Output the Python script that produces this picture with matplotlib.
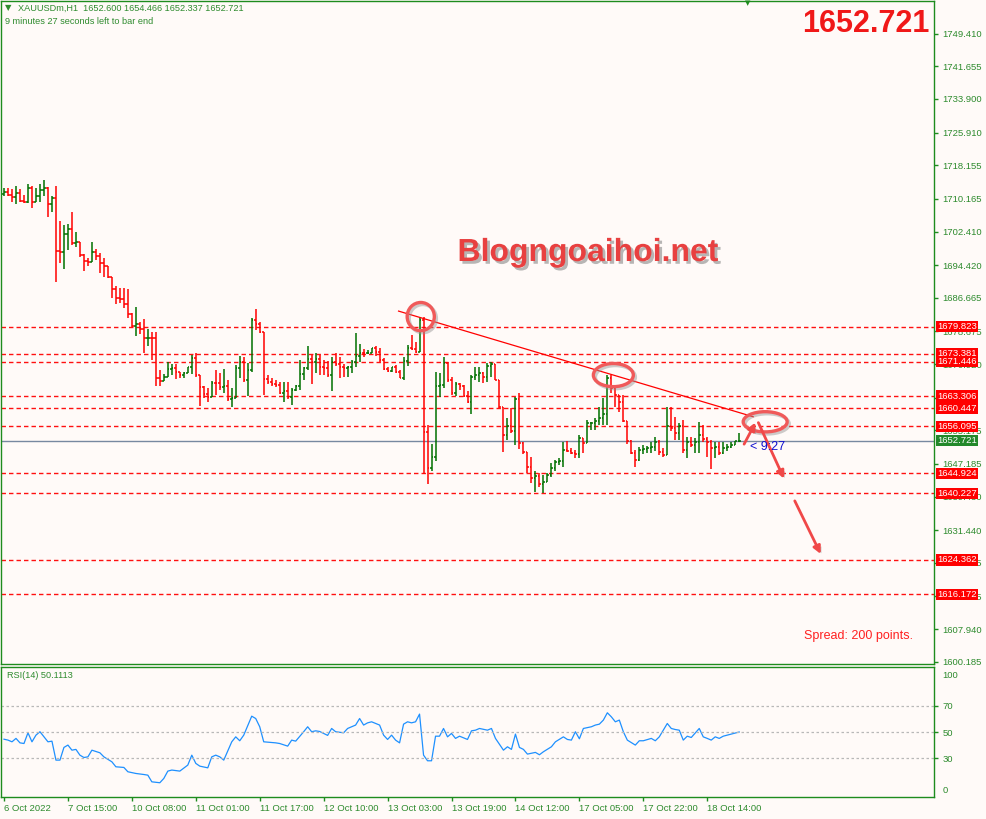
import matplotlib
matplotlib.use('Agg')
import matplotlib.pyplot as plt
import matplotlib.patheffects as pe
import matplotlib.transforms as mtrans
from matplotlib.patches import Ellipse, FancyArrowPatch
from matplotlib.collections import LineCollection

# ---- data (XAUUSDm, H1) ----
first_open = 1711.3
highs = [
    1712.8, 1712.7, 1712.5, 1713.2, 1712.5, 1711.1, 1713.6, 1713.3, 1712.8, 1713.6,
    1714.6, 1713.1, 1710.9, 1713.2, 1704.9, 1704.0, 1704.2, 1707.1, 1702.4, 1700.0,
    1697.0, 1696.0, 1700.0, 1698.3, 1697.2, 1696.0, 1694.1, 1691.7, 1689.5, 1689.1,
    1688.9, 1688.8, 1683.0, 1684.5, 1681.0, 1681.6, 1679.3, 1678.6, 1678.5, 1669.5,
    1668.5, 1671.5, 1670.9, 1670.9, 1669.1, 1669.1, 1670.3, 1673.1, 1673.6, 1668.3,
    1665.6, 1665.2, 1667.0, 1669.5, 1668.9, 1669.7, 1667.1, 1665.2, 1670.7, 1672.8,
    1672.5, 1671.1, 1681.8, 1683.9, 1681.0, 1678.6, 1668.3, 1667.5, 1667.1, 1666.7,
    1666.7, 1666.7, 1665.2, 1665.9, 1671.9, 1670.3, 1675.2, 1673.1, 1673.5, 1673.1,
    1671.9, 1671.7, 1672.5, 1673.5, 1672.5, 1670.9, 1670.5, 1671.9, 1678.4, 1675.8,
    1674.4, 1674.3, 1674.8, 1675.3, 1674.7, 1672.3, 1670.1, 1670.3, 1670.7, 1669.5,
    1672.7, 1675.5, 1677.8, 1676.1, 1682.2, 1682.2, 1656.4, 1651.9, 1669.0, 1668.7,
    1672.7, 1671.5, 1667.9, 1666.6, 1666.3, 1665.9, 1664.5, 1668.3, 1670.3, 1670.3,
    1669.0, 1671.1, 1671.5, 1670.7, 1667.1, 1660.8, 1658.0, 1660.4, 1663.2, 1664.0,
    1652.5, 1649.5, 1648.9, 1645.4, 1645.0, 1644.6, 1645.0, 1647.3, 1648.1, 1648.7,
    1652.5, 1652.6, 1650.9, 1650.5, 1654.1, 1652.9, 1657.6, 1657.2, 1658.0, 1660.8,
    1662.8, 1668.3, 1668.3, 1665.2, 1663.6, 1663.6, 1657.4, 1652.9, 1650.5, 1651.3,
    1651.7, 1651.5, 1652.3, 1653.7, 1652.9, 1650.9, 1660.8, 1660.8, 1658.4, 1656.8,
    1657.6, 1653.7, 1653.7, 1653.4, 1657.2, 1656.4, 1653.7, 1652.9, 1652.3, 1652.5,
    1652.5, 1651.9, 1652.5, 1652.6, 1654.466]
lows = [
    1710.9, 1710.9, 1709.4, 1708.9, 1709.4, 1709.1, 1709.1, 1708.1, 1709.4, 1709.4,
    1710.9, 1705.9, 1707.1, 1690.3, 1694.9, 1693.5, 1698.0, 1699.1, 1698.8, 1696.4,
    1693.0, 1694.3, 1696.0, 1695.6, 1692.6, 1691.7, 1691.3, 1686.7, 1685.1, 1685.4,
    1684.2, 1681.9, 1679.8, 1677.7, 1678.0, 1673.5, 1675.1, 1671.9, 1665.6, 1665.8,
    1666.9, 1667.9, 1668.2, 1667.4, 1667.7, 1667.7, 1668.7, 1668.6, 1667.8, 1661.0,
    1662.8, 1661.8, 1663.2, 1663.6, 1664.8, 1664.1, 1662.2, 1660.6, 1666.5, 1667.5,
    1666.7, 1663.3, 1669.1, 1679.0, 1678.2, 1663.6, 1666.2, 1665.7, 1665.4, 1663.8,
    1661.8, 1662.5, 1661.2, 1664.6, 1664.8, 1667.1, 1669.5, 1666.2, 1668.9, 1668.3,
    1668.3, 1667.8, 1664.6, 1670.5, 1667.5, 1667.8, 1667.8, 1668.9, 1670.1, 1671.3,
    1672.5, 1673.3, 1673.5, 1672.9, 1671.5, 1669.5, 1669.0, 1669.0, 1668.7, 1667.5,
    1667.1, 1670.5, 1674.3, 1673.5, 1673.7, 1644.7, 1642.3, 1645.4, 1647.9, 1663.2,
    1665.3, 1666.6, 1663.6, 1663.4, 1664.8, 1663.2, 1661.6, 1659.0, 1667.1, 1666.6,
    1666.3, 1666.6, 1667.9, 1667.1, 1660.4, 1650.1, 1652.9, 1654.5, 1651.7, 1650.7,
    1649.5, 1645.0, 1642.6, 1640.6, 1641.6, 1640.2, 1643.0, 1644.2, 1645.4, 1646.9,
    1646.5, 1650.0, 1649.5, 1648.7, 1648.7, 1649.7, 1652.1, 1655.3, 1655.3, 1656.4,
    1656.4, 1656.4, 1664.0, 1660.8, 1659.6, 1657.2, 1651.9, 1649.5, 1646.5, 1647.9,
    1649.5, 1649.9, 1649.9, 1650.3, 1649.2, 1648.9, 1649.5, 1654.9, 1652.9, 1652.9,
    1649.9, 1648.5, 1651.3, 1649.9, 1649.9, 1652.5, 1648.9, 1646.0, 1648.5, 1649.3,
    1649.5, 1650.3, 1650.9, 1651.7, 1652.337]
closes = [
    1711.9, 1711.2, 1710.5, 1711.5, 1709.7, 1709.4, 1712.7, 1709.4, 1710.9, 1712.3,
    1712.7, 1708.9, 1710.3, 1697.8, 1697.6, 1701.7, 1703.0, 1699.6, 1699.8, 1696.8,
    1695.4, 1695.1, 1697.5, 1696.7, 1694.9, 1694.1, 1691.7, 1688.8, 1686.5, 1686.4,
    1685.1, 1682.7, 1680.0, 1680.4, 1679.3, 1677.0, 1677.2, 1677.0, 1667.7, 1666.9,
    1667.9, 1669.8, 1669.9, 1669.0, 1668.2, 1668.7, 1670.1, 1672.3, 1668.3, 1665.4,
    1663.8, 1663.0, 1666.5, 1666.3, 1665.4, 1665.7, 1662.5, 1662.8, 1669.9, 1671.5,
    1667.1, 1669.4, 1681.5, 1680.4, 1678.6, 1667.3, 1666.7, 1666.2, 1665.9, 1664.1,
    1664.5, 1663.2, 1664.8, 1665.6, 1668.6, 1669.9, 1672.0, 1671.5, 1672.2, 1670.1,
    1669.9, 1668.3, 1671.5, 1670.9, 1670.3, 1669.9, 1670.2, 1671.5, 1672.8, 1673.6,
    1673.5, 1673.6, 1674.7, 1673.7, 1671.9, 1669.8, 1669.3, 1670.1, 1669.1, 1667.7,
    1671.7, 1674.8, 1674.5, 1673.7, 1681.4, 1654.7, 1646.2, 1648.9, 1665.8, 1666.0,
    1671.1, 1667.1, 1664.0, 1666.1, 1665.8, 1663.4, 1661.8, 1667.9, 1668.3, 1668.7,
    1667.9, 1670.5, 1670.9, 1667.1, 1660.8, 1654.1, 1656.3, 1655.0, 1662.6, 1652.1,
    1650.1, 1646.5, 1643.9, 1644.3, 1642.3, 1642.8, 1644.6, 1646.2, 1647.7, 1647.9,
    1650.5, 1650.2, 1649.9, 1649.5, 1653.3, 1652.1, 1656.8, 1657.0, 1657.4, 1658.2,
    1659.0, 1667.7, 1665.2, 1663.6, 1662.0, 1657.4, 1652.6, 1649.9, 1648.1, 1650.5,
    1650.7, 1650.9, 1651.3, 1652.3, 1650.1, 1649.3, 1656.1, 1655.7, 1654.5, 1656.3,
    1650.5, 1652.5, 1651.7, 1652.3, 1654.0, 1653.1, 1652.3, 1650.9, 1651.2, 1649.9,
    1650.9, 1651.3, 1651.7, 1652.6, 1652.721]

rsi_bar = [0, 1, 2, 3, 4, 5, 6, 7, 8, 9, 11, 12, 13, 14, 15, 16, 17, 18, 19, 20,
           21, 22, 24, 25, 27, 28, 30, 31, 33, 35, 36, 37, 39, 40, 41, 42, 44, 46, 47, 48,
           49, 51, 52, 53, 54, 55, 57, 58, 59, 60, 62, 63, 64, 65, 67, 68, 69, 71, 72, 73,
           75, 76, 77, 78, 79, 81, 82, 83, 85, 86, 88, 89, 90, 91, 92, 94, 95, 96, 97, 98,
           99, 100, 101, 102, 103, 104, 105, 106, 107, 108, 109, 110, 111, 112, 113, 114, 116, 117, 118, 119,
           121, 122, 123, 125, 126, 127, 128, 129, 130, 131, 133, 134, 135, 137, 138, 140, 141, 142, 143, 144,
           145, 147, 148, 149, 150, 151, 152, 153, 154, 155, 156, 158, 159, 160, 162, 163, 164, 166, 167, 168,
           169, 170, 171, 172, 174, 175, 176, 177, 178, 179, 180, 181, 184]
rsi_val = [44.6, 43.9, 42.6, 45.2, 41.8, 41.3, 49.5, 42.6, 47.7, 50.3, 42.6, 43.1, 28.6, 28.6, 38.3, 40.1, 36.2, 36.8, 32.4, 30.6,
           31.1, 36.2, 34.2, 31.1, 27.3, 23.5, 23.0, 19.7, 18.4, 17.6, 17.1, 12.0, 11.3, 14.6, 20.2, 21.0, 20.2, 24.8, 32.4, 26.1,
           24.0, 22.7, 31.1, 32.4, 31.1, 28.6, 42.6, 46.4, 43.4, 47.7, 62.2, 60.4, 54.1, 42.6, 42.1, 41.8, 41.3, 39.3, 43.9, 43.1,
           50.3, 54.1, 50.3, 51.0, 50.5, 47.5, 52.8, 50.3, 49.5, 52.8, 55.4, 60.4, 55.4, 57.1, 57.9, 55.4, 47.7, 44.4, 47.7, 43.9,
           41.8, 56.1, 57.9, 57.1, 57.9, 63.8, 32.4, 28.1, 28.1, 46.9, 46.9, 52.8, 46.4, 49.0, 45.2, 46.9, 44.4, 51.0, 51.5, 52.8,
           51.5, 52.8, 45.2, 36.2, 38.8, 36.8, 48.5, 38.3, 36.8, 33.2, 34.5, 32.7, 35.0, 38.8, 42.6, 46.4, 44.4, 43.9, 50.3, 44.9,
           52.8, 54.1, 55.4, 56.1, 59.2, 64.8, 61.7, 57.9, 59.2, 50.3, 43.9, 40.1, 43.4, 43.4, 45.2, 43.4, 46.4, 56.6, 52.8, 52.0,
           51.5, 43.9, 46.9, 45.9, 52.8, 46.4, 45.2, 43.9, 46.4, 45.2, 46.9, 47.7, 50.1]

levels = [1679.823, 1673.381, 1671.446, 1663.306, 1660.447, 1656.095,
          1644.924, 1640.227, 1624.362, 1616.172]
last_price = 1652.721
price_ticks = [1749.410, 1741.655, 1733.900, 1725.910, 1718.155, 1710.165, 1702.410,
               1694.420, 1686.665, 1678.675, 1670.920, 1662.930, 1655.175, 1647.185,
               1639.430, 1631.440, 1623.685, 1615.695, 1607.940, 1600.185]
# tick labels fully covered by a level box in the reference
hidden_ticks = [1662.930]
time_ticks = [0, 16, 32, 48, 64, 80, 96, 112, 128, 144, 160, 176]
time_labels = ['6 Oct 2022', '7 Oct 15:00', '10 Oct 08:00', '11 Oct 01:00', '11 Oct 17:00',
               '12 Oct 10:00', '13 Oct 03:00', '13 Oct 19:00', '14 Oct 12:00',
               '17 Oct 05:00', '17 Oct 22:00', '18 Oct 14:00']

# trend line and hand-drawn marks (bar index, price)
trend_x = [98.75, 187.5]
trend_y = [1683.5, 1658.4]
circles = [(104.3, 1682.2, 6.8, 6.7), (152.5, 1668.3, 10.0, 5.5), (190.5, 1657.2, 11.0, 4.8)]
arrows = [((184.9, 1651.3), (188.4, 1657.6)),
          ((188.5, 1657.6), (195.5, 1643.1)),
          ((197.6, 1639.0), (204.7, 1625.2))]

# ---- styles ----
BG = '#FFFAF8'
FRAME = '#1E8C1E'
TXT = '#2E8B2E'
UP = '#007000'
DN = '#FF0000'
FONT = ['Liberation Sans', 'DejaVu Sans']
plt.rcParams['font.family'] = FONT

W, H = 986, 819
fig = plt.figure(figsize=(W / 100, H / 100), dpi=100)
fig.patch.set_facecolor(BG)


def px_rect(x0, y0, x1, y1):
    return [x0 / W, 1 - y1 / H, (x1 - x0) / W, (y1 - y0) / H]


ax = fig.add_axes(px_rect(1, 1, 934, 664))
rx = fig.add_axes(px_rect(1, 667, 934, 797), sharex=ax)
for a in (ax, rx):
    a.set_facecolor(BG)
    for s in a.spines.values():
        s.set_color(FRAME)
        s.set_linewidth(1.0)

ax.set_xlim(-0.75, 232.75)
ax.set_ylim(1599.65, 1757.18)
rx.set_ylim(0.4, 99.8)

# bars (OHLC)
opens = [first_open] + closes[:-1]
segs_up, segs_dn = [], []
for i in range(len(closes)):
    o, c = opens[i], closes[i]
    h = max(highs[i], o, c)
    l = min(lows[i], o, c)
    segs = [[(i, l), (i, h)], [(i - 0.42, o), (i, o)], [(i, c), (i + 0.42, c)]]
    if c >= o:
        segs_up.extend(segs)
    else:
        segs_dn.extend(segs)
ax.add_collection(LineCollection(segs_up, colors=UP, linewidths=1.1, zorder=3))
ax.add_collection(LineCollection(segs_dn, colors=DN, linewidths=1.1, zorder=3))

# horizontal levels
for lv in levels:
    ax.axhline(lv, color='#FF1010', lw=1.0, ls=(0, (3.2, 2.2)), zorder=2)
ax.axhline(last_price, color='#7788A0', lw=1.0, zorder=2)

# trend line
ax.plot(trend_x, trend_y, color='#FF0000', lw=0.9, zorder=4)

shadow_line = [pe.SimpleLineShadow(offset=(1.5, -1.5), shadow_color='#909090', alpha=0.45), pe.Normal()]
shadow_patch = [pe.SimplePatchShadow(offset=(1.5, -1.5), shadow_rgbFace='#909090', alpha=0.45), pe.Normal()]
for cx, cy, w, h in circles:
    e = Ellipse((cx, cy), w, h, fill=False, ec='#F05A5A', lw=2.4, zorder=5,
                path_effects=shadow_line)
    ax.add_patch(e)
for p0, p1 in arrows:
    ar = FancyArrowPatch(p0, p1, arrowstyle='-|>', mutation_scale=11, color='#F04848',
                         lw=2.0, zorder=5, path_effects=shadow_patch, clip_on=False)
    ax.add_patch(ar)

# price axis
ax.yaxis.tick_right()
ax.set_yticks(price_ticks)
ax.set_yticklabels(['' if v in hidden_ticks else '%.3f' % v for v in price_ticks])
ax.tick_params(axis='y', direction='out', length=3, width=1, color=FRAME,
               labelcolor=TXT, labelsize=6.8, pad=3)
ax.tick_params(axis='x', bottom=False, labelbottom=False)

blend = mtrans.blended_transform_factory(ax.transAxes, ax.transData)
for lv in levels:
    ax.text(1.0035, lv, '%.3f' % lv, transform=blend, ha='left', va='center',
            color='white', fontsize=6.8, clip_on=False, zorder=10,
            bbox=dict(boxstyle='square,pad=0.12', fc='#FF0000', ec='none'))
ax.text(1.0035, last_price, '%.3f' % last_price, transform=blend, ha='left', va='center',
        color='white', fontsize=6.8, clip_on=False, zorder=10,
        bbox=dict(boxstyle='square,pad=0.12', fc='#22882A', ec='none'))

# RSI panel
rx.plot(rsi_bar, rsi_val, color='#1E90FF', lw=0.9)
for lv in (70, 50, 30):
    rx.axhline(lv, color='#B8B8B8', lw=0.9, ls=(0, (2, 2)))
rx.yaxis.tick_right()
rx.set_yticks([70, 50, 30])
rx.set_yticklabels(['70', '50', '30'])
rx.tick_params(axis='y', direction='out', length=3, width=1, color=FRAME,
               labelcolor=TXT, labelsize=6.8, pad=3)
rblend = mtrans.blended_transform_factory(rx.transAxes, rx.transData)
rx.text(1.009, 93.5, '100', transform=rblend, ha='left', va='center', color=TXT, fontsize=6.8)
rx.text(1.009, 5.0, '0', transform=rblend, ha='left', va='center', color=TXT, fontsize=6.8)
rx.set_xticks(time_ticks)
rx.set_xticklabels(time_labels, ha='left')
rx.tick_params(axis='x', direction='out', length=3, width=1, color=FRAME,
               labelcolor=TXT, labelsize=6.8, pad=2)

# texts
def ftext(x, y, s, **kw):
    return fig.text(x / W, 1 - y / H, s, **kw)

ftext(5, 8, '\u25bc', color=TXT, fontsize=6, va='center', ha='left', family=['DejaVu Sans'])
ftext(18, 8, 'XAUUSDm,H1  1652.600 1654.466 1652.337 1652.721', color=TXT,
      fontsize=6.6, va='center', ha='left')
ftext(5, 21, '9 minutes 27 seconds left to bar end', color=TXT, fontsize=6.6,
      va='center', ha='left')
ftext(748, 3, '\u25bc', color=FRAME, fontsize=5, va='center', ha='center', family=['DejaVu Sans'])
ftext(930, 24, '1652.721', color='#F01818', fontsize=22, fontweight='bold',
      va='center', ha='right')
ftext(588, 253, 'Blogngoaihoi.net', color='#E84040', fontsize=23, fontweight='bold',
      va='center', ha='center',
      path_effects=[pe.withSimplePatchShadow(offset=(2, -2), shadow_rgbFace='#888888', alpha=0.6)])
ftext(750, 447, '< 9:27', color='#1010D0', fontsize=9, va='center', ha='left')
ftext(913, 636, 'Spread: 200 points.', color='#FF2020', fontsize=9, va='center', ha='right')
ftext(7, 675, 'RSI(14) 50.1113', color=TXT, fontsize=6.6, va='center', ha='left')

fig.savefig('out.png', dpi=100, facecolor=BG)
